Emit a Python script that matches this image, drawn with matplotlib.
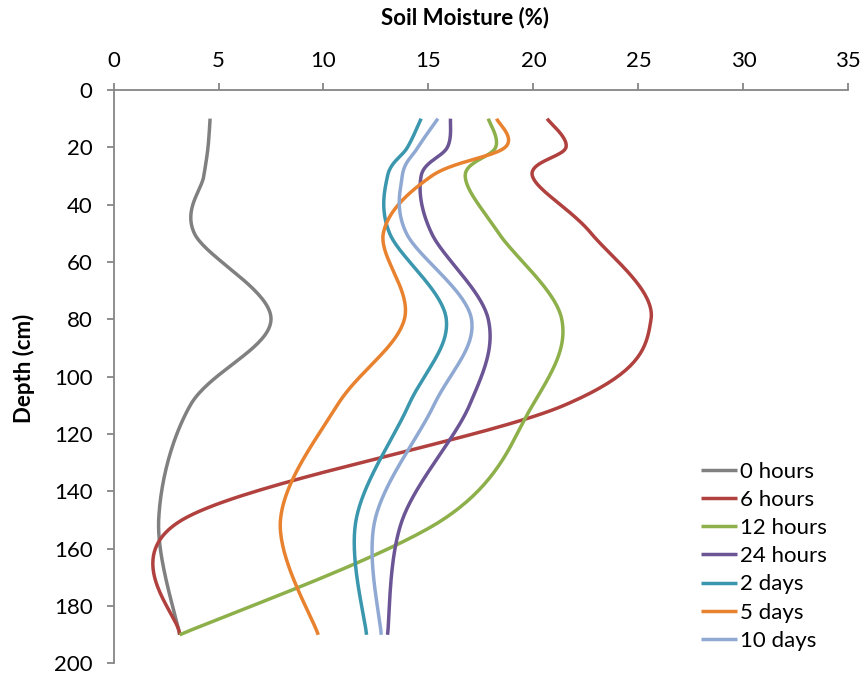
import numpy as np
import matplotlib
matplotlib.use("Agg")
import matplotlib.pyplot as plt

plt.rcParams['font.family'] = ['Lato', 'DejaVu Sans']

depth = [10, 20, 30, 50, 80, 110, 150, 190]
series = ["0 hours", "6 hours", "12 hours", "24 hours", "2 days", "5 days", "10 days"]
moisture = {
    "0 hours":  [4.6, 4.5, 4.3, 3.85, 7.5, 3.65, 2.15, 3.15],
    "6 hours":  [20.65, 21.55, 19.95, 22.75, 25.6, 21.45, 3.25, 3.15],
    "12 hours": [17.85, 18.2, 16.75, 18.35, 21.35, 19.95, 15.65, 3.15],
    "24 hours": [16.05, 15.9, 14.65, 15.15, 17.85, 16.95, 13.75, 13.05],
    "2 days":   [14.65, 14.0, 13.05, 13.15, 15.85, 14.05, 11.55, 12.05],
    "5 days":   [18.25, 18.65, 15.15, 12.85, 13.85, 10.65, 7.95, 9.75],
    "10 days":  [15.45, 14.5, 13.75, 13.95, 17.05, 15.25, 12.45, 12.75],
}
colors = ["#808080", "#B0413E", "#8DB04A", "#6B5595", "#3B97AE", "#E8822F", "#8FA9D3"]


def smooth(x, y, n=40):
    # Catmull-Rom style bezier, like Excel's smoothed lines
    p = np.column_stack([x, y]).astype(float)
    ext = np.vstack([p[0], p, p[-1]])
    out = []
    t = np.linspace(0, 1, n)[:, None]
    for i in range(len(p) - 1):
        p0, p1, p2, p3 = ext[i], ext[i + 1], ext[i + 2], ext[i + 3]
        c1 = p1 + (p2 - p0) / 6
        c2 = p2 - (p3 - p1) / 6
        seg = ((1 - t) ** 3) * p1 + 3 * ((1 - t) ** 2) * t * c1 + 3 * (1 - t) * t ** 2 * c2 + t ** 3 * p2
        out.append(seg if i == 0 else seg[1:])
    out = np.vstack(out)
    return out[:, 0], out[:, 1]


fig = plt.figure(figsize=(8.62, 6.76), dpi=100)
ax = fig.add_axes([0.1317, 0.0185, 0.8525, 0.8484])

for name, c in zip(series, colors):
    sx, sy = smooth(moisture[name], depth)
    ax.plot(sx, sy, color=c, lw=2.5, label=name, solid_capstyle='butt')

ax.set_xlim(0, 35)
ax.set_ylim(200, 0)
ax.set_xticks(range(0, 36, 5))
ax.set_yticks(range(0, 201, 20))
ax.xaxis.tick_top()
ax.xaxis.set_label_position('top')
for s in ['right', 'bottom']:
    ax.spines[s].set_visible(False)
for s in ['left', 'top']:
    ax.spines[s].set_color('#868686')
    ax.spines[s].set_linewidth(1.3)
ax.tick_params(axis='both', colors='#868686', length=5, width=1.3, labelsize=16,
               labelcolor='black')
ax.tick_params(axis='x', pad=9)
ax.tick_params(axis='y', pad=10)
ax.set_xlabel("Soil Moisture (%)", fontsize=16, fontweight='bold', va='center')
ax.set_ylabel("Depth (cm)", fontsize=16, fontweight='bold', va='center', ha='center')
ax.xaxis.set_label_coords(0.478, 1.126)
ax.yaxis.set_label_coords(-0.122, 0.515)

ax.legend(loc='center left', bbox_to_anchor=(0.8, 0.187), frameon=False, fontsize=16,
          handlelength=1.58, handletextpad=0.14, labelspacing=0.37, borderpad=0,
          borderaxespad=0)

fig.savefig("out.png", dpi=100)
